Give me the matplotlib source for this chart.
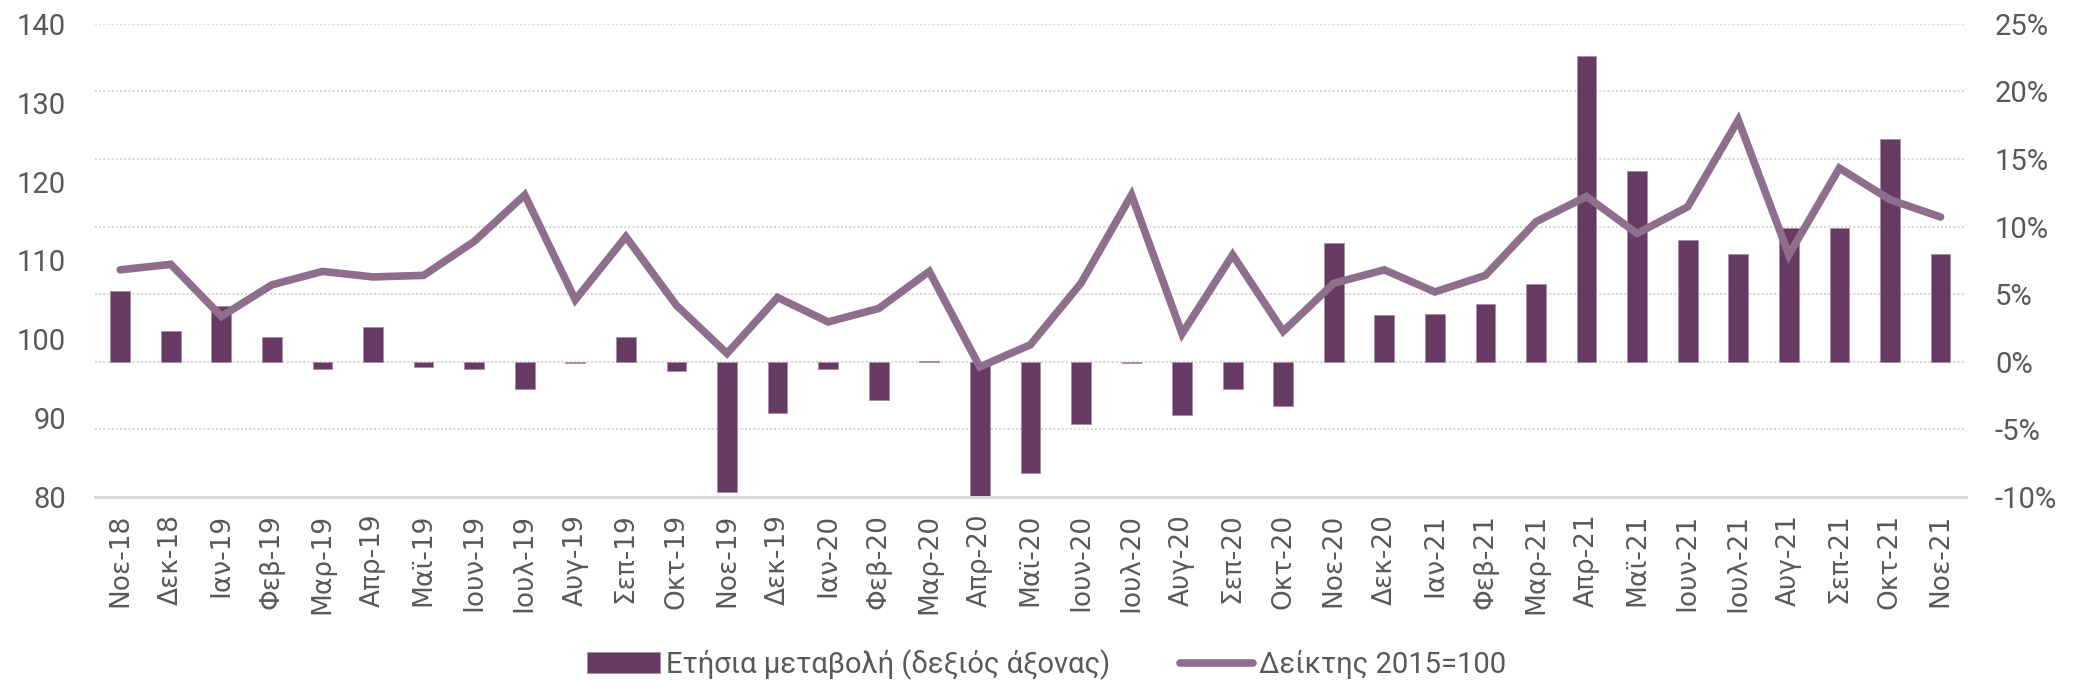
import matplotlib.pyplot as plt
from matplotlib.ticker import FuncFormatter

# Data
months = ['Νοε-18', 'Δεκ-18', 'Ιαν-19', 'Φεβ-19', 'Μαρ-19', 'Απρ-19', 'Μαϊ-19',
          'Ιουν-19', 'Ιουλ-19', 'Αυγ-19', 'Σεπ-19', 'Οκτ-19', 'Νοε-19', 'Δεκ-19',
          'Ιαν-20', 'Φεβ-20', 'Μαρ-20', 'Απρ-20', 'Μαϊ-20', 'Ιουν-20', 'Ιουλ-20',
          'Αυγ-20', 'Σεπ-20', 'Οκτ-20', 'Νοε-20', 'Δεκ-20', 'Ιαν-21', 'Φεβ-21',
          'Μαρ-21', 'Απρ-21', 'Μαϊ-21', 'Ιουν-21', 'Ιουλ-21', 'Αυγ-21', 'Σεπ-21',
          'Οκτ-21', 'Νοε-21']

index_2015 = [108.8, 109.5, 102.9, 106.9, 108.6, 107.9, 108.1, 112.4, 118.3, 105.0,
              113.0, 104.3, 98.2, 105.3, 102.2, 103.9, 108.6, 96.5, 99.3, 107.1,
              118.3, 100.7, 110.7, 101.0, 107.1, 108.8, 106.0, 108.1, 114.9, 118.1,
              113.4, 116.8, 127.8, 110.7, 121.7, 117.7, 115.5]

yoy_change = [5.2, 2.3, 4.1, 1.85, -0.56, 2.6, -0.4, -0.5, -2.0, -0.1,
              1.85, -0.7, -9.65, -3.8, -0.56, -2.83, 0.05, -10.2, -8.2, -4.6,
              -0.1, -3.95, -2.05, -3.28, 8.76, 3.46, 3.53, 4.25, 5.73, 22.65,
              14.14, 9.0, 7.97, 9.92, 9.87, 16.46, 8.0]

bar_color = '#673A64'
line_color = '#8E6E8D'
text_color = '#595959'
grid_color = '#D9D9D9'
label_font = ['Roboto', 'DejaVu Sans']

fig = plt.figure(figsize=(20.73, 6.99), dpi=100)
ax = fig.add_axes([0.0458, 0.289, 0.9025, 0.677])
ax2 = ax.twinx()

# line on top of the bars
ax.set_zorder(ax2.get_zorder() + 1)
ax.patch.set_visible(False)

x = list(range(len(months)))

bars = ax2.bar(x, yoy_change, width=0.39, color=bar_color, edgecolor='#A88EA6',
               linewidth=0.6, label='Ετήσια μεταβολή (δεξιός άξονας)')
line, = ax.plot(x, index_2015, color=line_color, linewidth=5.5,
                solid_capstyle='round', solid_joinstyle='miter',
                label='Δείκτης 2015=100')

# Axis ranges
ax.set_xlim(-0.5, len(months) - 0.5)
ax.set_ylim(80, 140)
ax.set_yticks(range(80, 141, 10))
ax2.set_ylim(-10, 25)
ax2.set_yticks(range(-10, 26, 5))
ax2.yaxis.set_major_formatter(FuncFormatter(lambda v, p: f'{v:.0f}%'))

# dotted grid behind bars
ax2.set_axisbelow(True)
ax2.grid(axis='y', color=grid_color, linestyle=(0, (1, 1)), linewidth=1.5)
ax2.grid(axis='x', visible=False)

for a in (ax, ax2):
    for s in ('top', 'left', 'right'):
        a.spines[s].set_visible(False)
    a.spines['bottom'].set_color(grid_color)
    a.spines['bottom'].set_linewidth(2)
    a.tick_params(length=0, colors=text_color)

ax.set_xticks(x)
ax.set_xticklabels(months, rotation=90, fontsize=19, family='DejaVu Sans',
                   color=text_color)
ax.tick_params(axis='x', pad=12)
ax.tick_params(axis='y', pad=21)
ax2.tick_params(axis='y', pad=21)
for lbl in ax.get_yticklabels() + ax2.get_yticklabels():
    lbl.set_fontsize(21)
    lbl.set_family(label_font)

# Legend at the bottom
leg = fig.legend(handles=[bars, line], loc='lower center', ncol=2,
                 bbox_to_anchor=(0.505, -0.01), frameon=False,
                 prop={'family': label_font, 'size': 21},
                 handlelength=2.5, handletextpad=0.2, columnspacing=2.4)
for t in leg.get_texts():
    t.set_color(text_color)

plt.savefig('out.png', dpi=100)
